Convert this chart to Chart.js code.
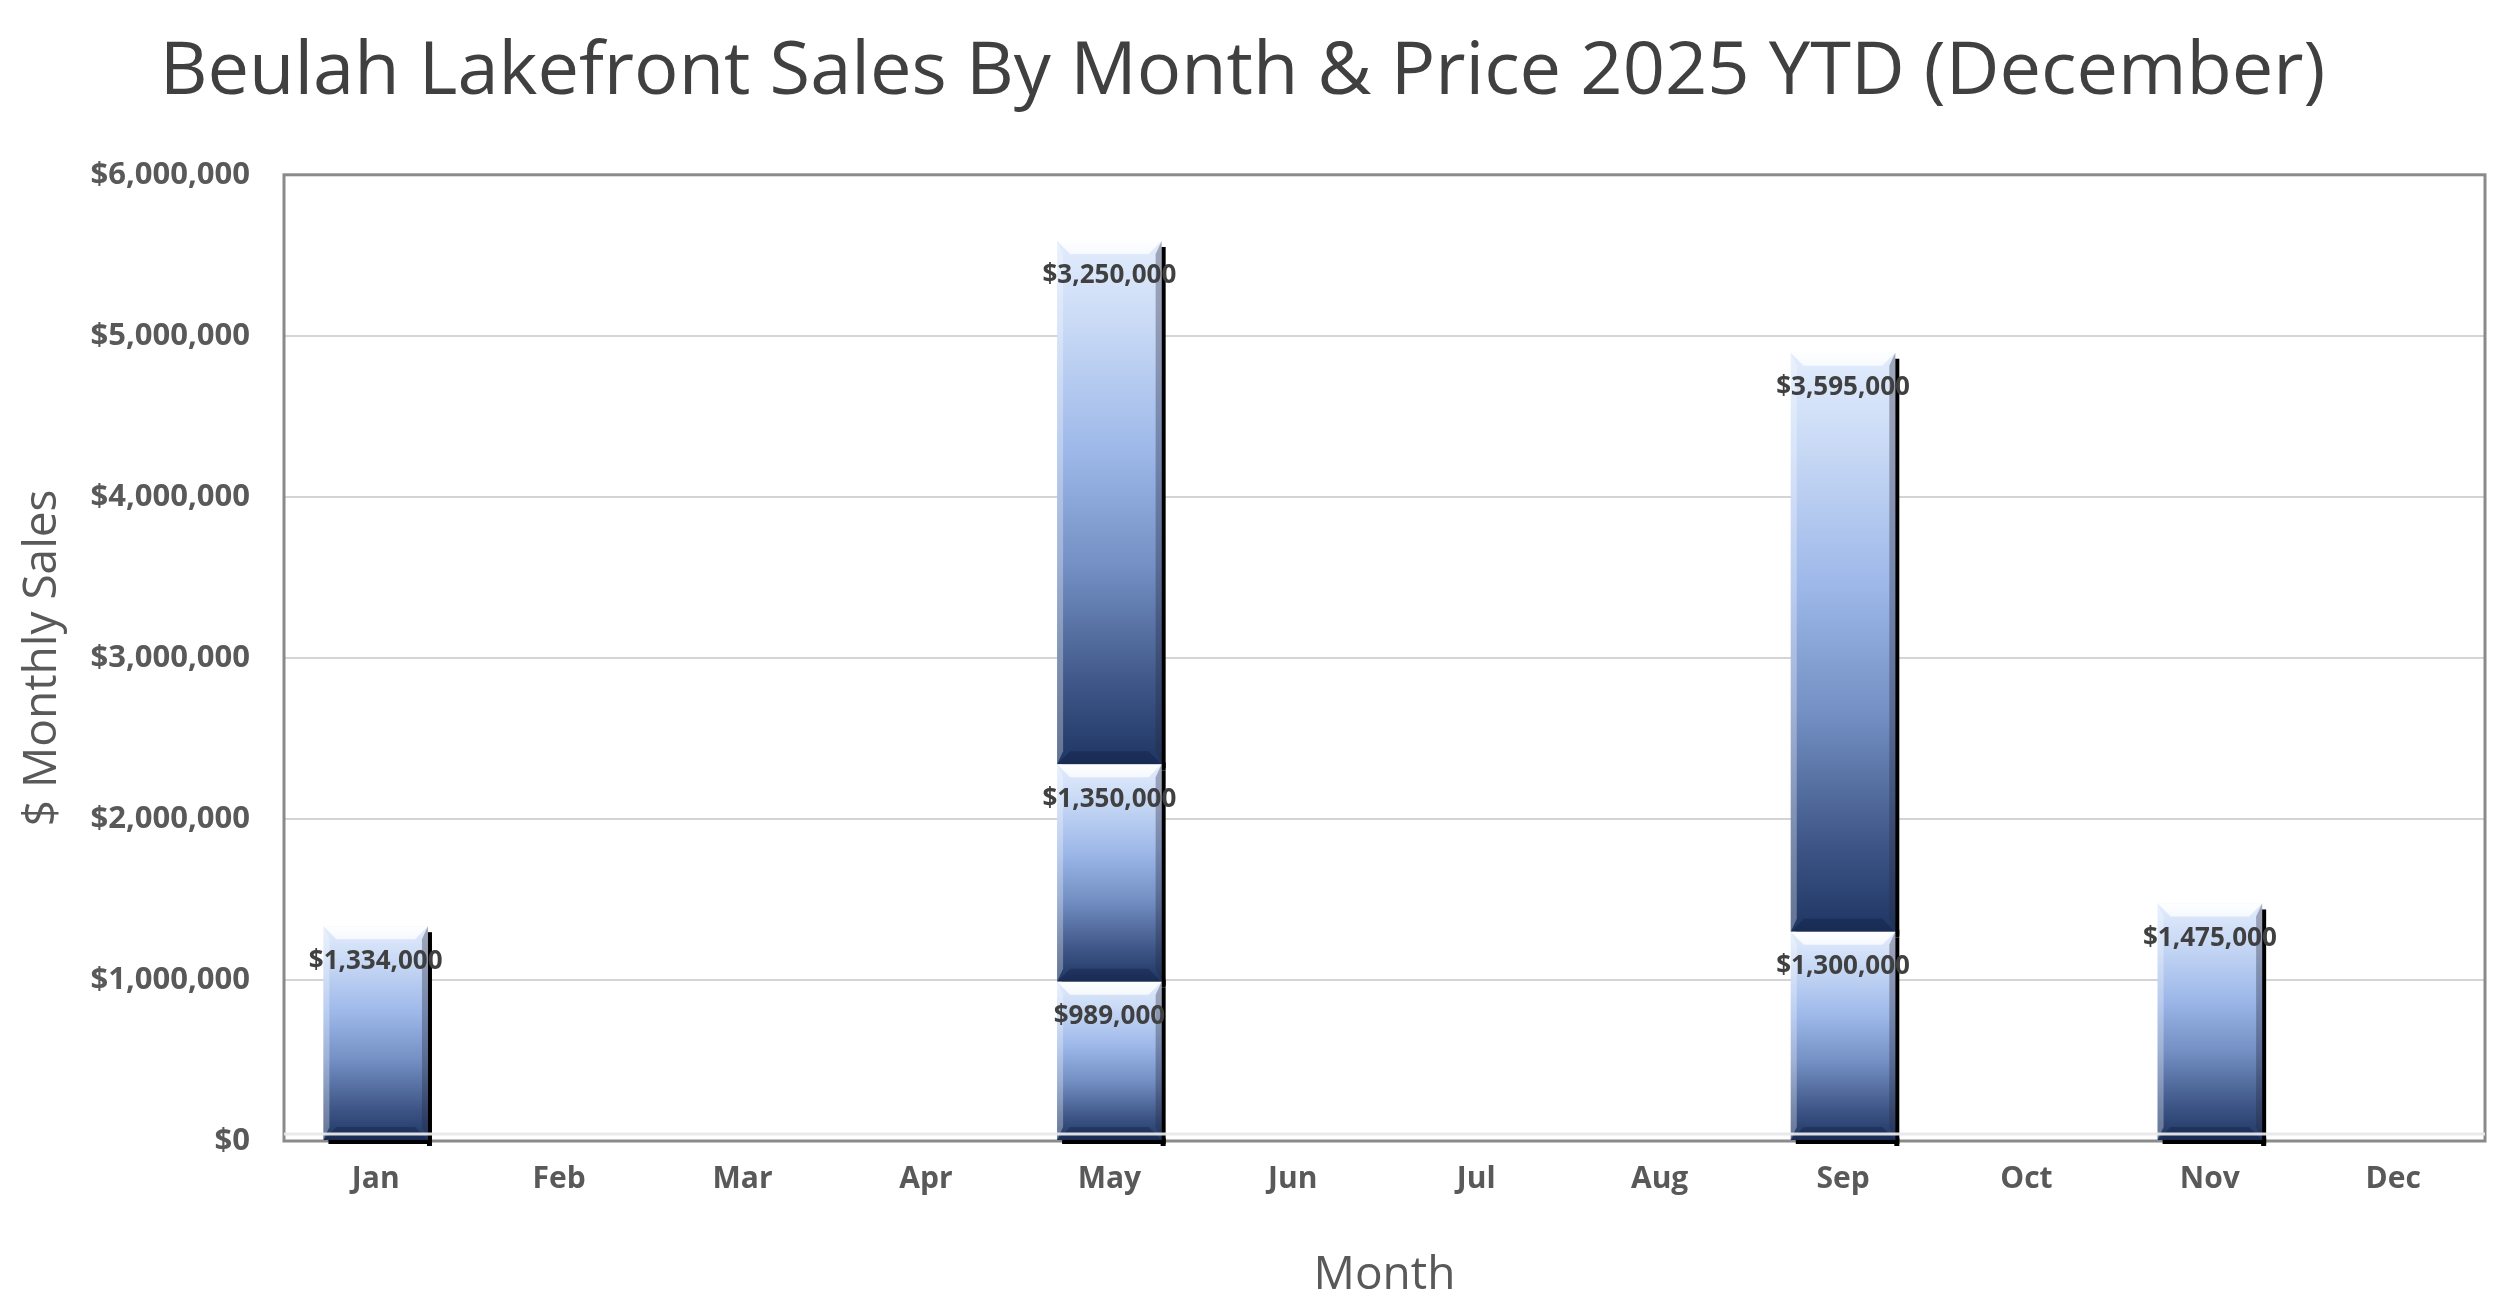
<!DOCTYPE html>
<html>
<head>
<meta charset="utf-8">
<title>Beulah Lakefront Sales By Month & Price 2025 YTD</title>
<script src="https://cdn.jsdelivr.net/npm/chart.js@4.4.1/dist/chart.umd.min.js"></script>
<style>
  html, body { margin: 0; padding: 0; background: #fff; }
  #wrap { width: 2500px; height: 1315px; position: relative; }
</style>
</head>
<body>
<div id="wrap"><canvas id="salesChart"></canvas></div>
<script>
const months = ['Jan', 'Feb', 'Mar', 'Apr', 'May', 'Jun', 'Jul', 'Aug', 'Sep', 'Oct', 'Nov', 'Dec'];

// one array per stacked sale (first, second, third sale of the month)
const sale1 = [1334000, null, null, null, 989000, null, null, null, 1300000, null, 1475000, null];
const sale2 = [null, null, null, null, 1350000, null, null, null, 3595000, null, null, null];
const sale3 = [null, null, null, null, 3250000, null, null, null, null, null, null, null];

const yTicks = [0, 1000000, 2000000, 3000000, 4000000, 5000000, 6000000];

const FONT = '"Open Sans", "Noto Sans", sans-serif';

function money(v) {
  return '$' + Number(v).toLocaleString('en-US');
}

// vertical gradient over one stacked segment, worked out from the y scale
function barGradient(c) {
  const chart = c.chart;
  const y = chart.scales.y;
  if (c.type !== 'data' || !y) return '#8aa5d8';
  const all = chart.data.datasets;
  let start = 0;
  for (let d = 0; d < c.datasetIndex; d++) start += (all[d].data[c.dataIndex] || 0);
  const end = start + (c.raw || 0);
  const top = y.getPixelForValue(end);
  const bottom = y.getPixelForValue(start);
  if (!isFinite(top) || !isFinite(bottom) || top === bottom) return '#8aa5d8';
  const g = chart.ctx.createLinearGradient(0, top, 0, bottom);
  g.addColorStop(0, '#e2ecfc');
  g.addColorStop(0.15, '#cbdbf6');
  g.addColorStop(0.4, '#9db8e9');
  g.addColorStop(0.62, '#7490c4');
  g.addColorStop(0.85, '#3e5687');
  g.addColorStop(1, '#1f3663');
  return g;
}

// black drop shadow behind each bar, plot frame
const shadowPlugin = {
  id: 'barShadow',
  beforeDatasetsDraw(chart) {
    const { ctx, chartArea } = chart;
    ctx.save();
    ctx.strokeStyle = '#8a8a8a';
    ctx.lineWidth = 3;
    ctx.strokeRect(chartArea.left, chartArea.top, chartArea.right - chartArea.left, chartArea.bottom - chartArea.top);
    ctx.fillStyle = '#000';
    chart.data.datasets.forEach((ds, di) => {
      chart.getDatasetMeta(di).data.forEach((el, i) => {
        if (ds.data[i] == null) return;
        const { x, y, base, width } = el.getProps(['x', 'y', 'base', 'width'], true);
        const r = x + width / 2;
        ctx.fillRect(r - 1, y + 6, 5, base - y);
        ctx.fillRect(x - width / 2 + 5, base - 2, width - 1, 6);
      });
    });
    ctx.restore();
  }
};

// bevel edges, floor line and value labels
const bevelPlugin = {
  id: 'barBevel',
  afterDatasetsDraw(chart) {
    const { ctx, chartArea } = chart;
    const b = 13;
    ctx.save();
    chart.data.datasets.forEach((ds, di) => {
      chart.getDatasetMeta(di).data.forEach((el, i) => {
        if (ds.data[i] == null) return;
        const { x, y, base, width } = el.getProps(['x', 'y', 'base', 'width'], true);
        const l = x - width / 2, r = x + width / 2;

        let g = ctx.createLinearGradient(0, y, 0, y + b);
        g.addColorStop(0, 'rgba(255,255,255,0.95)');
        g.addColorStop(1, 'rgba(255,255,255,0.75)');
        ctx.fillStyle = g;
        ctx.beginPath();
        ctx.moveTo(l, y); ctx.lineTo(r, y); ctx.lineTo(r - b, y + b); ctx.lineTo(l + b, y + b);
        ctx.closePath(); ctx.fill();

        ctx.fillStyle = 'rgba(10,20,50,0.3)';
        ctx.beginPath();
        ctx.moveTo(l, base); ctx.lineTo(r, base); ctx.lineTo(r - b, base - b); ctx.lineTo(l + b, base - b);
        ctx.closePath(); ctx.fill();

        ctx.fillStyle = 'rgba(255,255,255,0.3)';
        ctx.beginPath();
        ctx.moveTo(l, y); ctx.lineTo(l + 6, y + b); ctx.lineTo(l + 6, base - b); ctx.lineTo(l, base);
        ctx.closePath(); ctx.fill();

        ctx.fillStyle = 'rgba(40,40,60,0.35)';
        ctx.beginPath();
        ctx.moveTo(r, y); ctx.lineTo(r - 6, y + b); ctx.lineTo(r - 6, base - b); ctx.lineTo(r, base);
        ctx.closePath(); ctx.fill();
      });
    });

    ctx.strokeStyle = 'rgba(232,232,232,0.95)';
    ctx.lineWidth = 3;
    ctx.beginPath();
    ctx.moveTo(chartArea.left, chartArea.bottom - 7);
    ctx.lineTo(chartArea.right, chartArea.bottom - 7);
    ctx.stroke();

    ctx.fillStyle = '#404040';
    ctx.font = 'bold 26px ' + FONT;
    ctx.textAlign = 'center';
    ctx.textBaseline = 'middle';
    chart.data.datasets.forEach((ds, di) => {
      chart.getDatasetMeta(di).data.forEach((el, i) => {
        if (ds.data[i] == null) return;
        const { x, y } = el.getProps(['x', 'y'], true);
        ctx.fillText(money(ds.data[i]), x, y + 35);
      });
    });
    ctx.restore();
  }
};

const seriesList = [sale1, sale2, sale3];
const datasets = seriesList.map((arr, idx) => ({
  label: 'Sale ' + (idx + 1),
  data: arr,
  backgroundColor: barGradient,
  borderWidth: 0,
  barPercentage: 0.57,
  categoryPercentage: 1.0
}));

const chart = new Chart(document.getElementById('salesChart').getContext('2d'), {
  type: 'bar',
  data: { labels: months, datasets },
  plugins: [shadowPlugin, bevelPlugin],
  options: {
    responsive: true,
    maintainAspectRatio: false,
    devicePixelRatio: 1,
    animation: false,
    layout: { padding: { left: 0, right: 15, top: 0, bottom: 0 } },
    plugins: {
      legend: { display: false },
      tooltip: { enabled: false },
      title: {
        display: true,
        text: 'Beulah Lakefront Sales By Month & Price 2025 YTD (December)',
        color: '#404040',
        font: { family: FONT, size: 74, weight: 'normal', lineHeight: 1.2 },
        padding: { top: 29, bottom: 57 }
      }
    },
    scales: {
      x: {
        stacked: true,
        grid: { display: false, drawTicks: false },
        border: { display: false },
        ticks: {
          color: '#595959',
          padding: 20,
          font: { family: FONT, size: 30, weight: 'bold' }
        },
        title: {
          display: true,
          text: 'Month',
          color: '#595959',
          font: { family: FONT, size: 46, weight: 'normal', lineHeight: 1.2 },
          padding: { top: 0, bottom: 12 }
        },
        afterFit(scale) { scale.height = 174; }
      },
      y: {
        stacked: true,
        min: 0,
        max: 6000000,
        afterBuildTicks(scale) { scale.ticks = yTicks.map(v => ({ value: v })); },
        grid: { color: '#d4d4d4', lineWidth: 2, drawTicks: false },
        border: { display: false },
        ticks: {
          color: '#595959',
          padding: 34,
          font: { family: FONT, size: 31, weight: 'bold' },
          callback: v => money(v)
        },
        title: {
          display: true,
          text: '$ Monthly Sales',
          color: '#595959',
          font: { family: FONT, size: 46, weight: 'normal', lineHeight: 1.2 },
          padding: { top: 15, bottom: 0 }
        },
        afterFit(scale) { scale.width = 284; }
      }
    }
  }
});
</script>
</body>
</html>
